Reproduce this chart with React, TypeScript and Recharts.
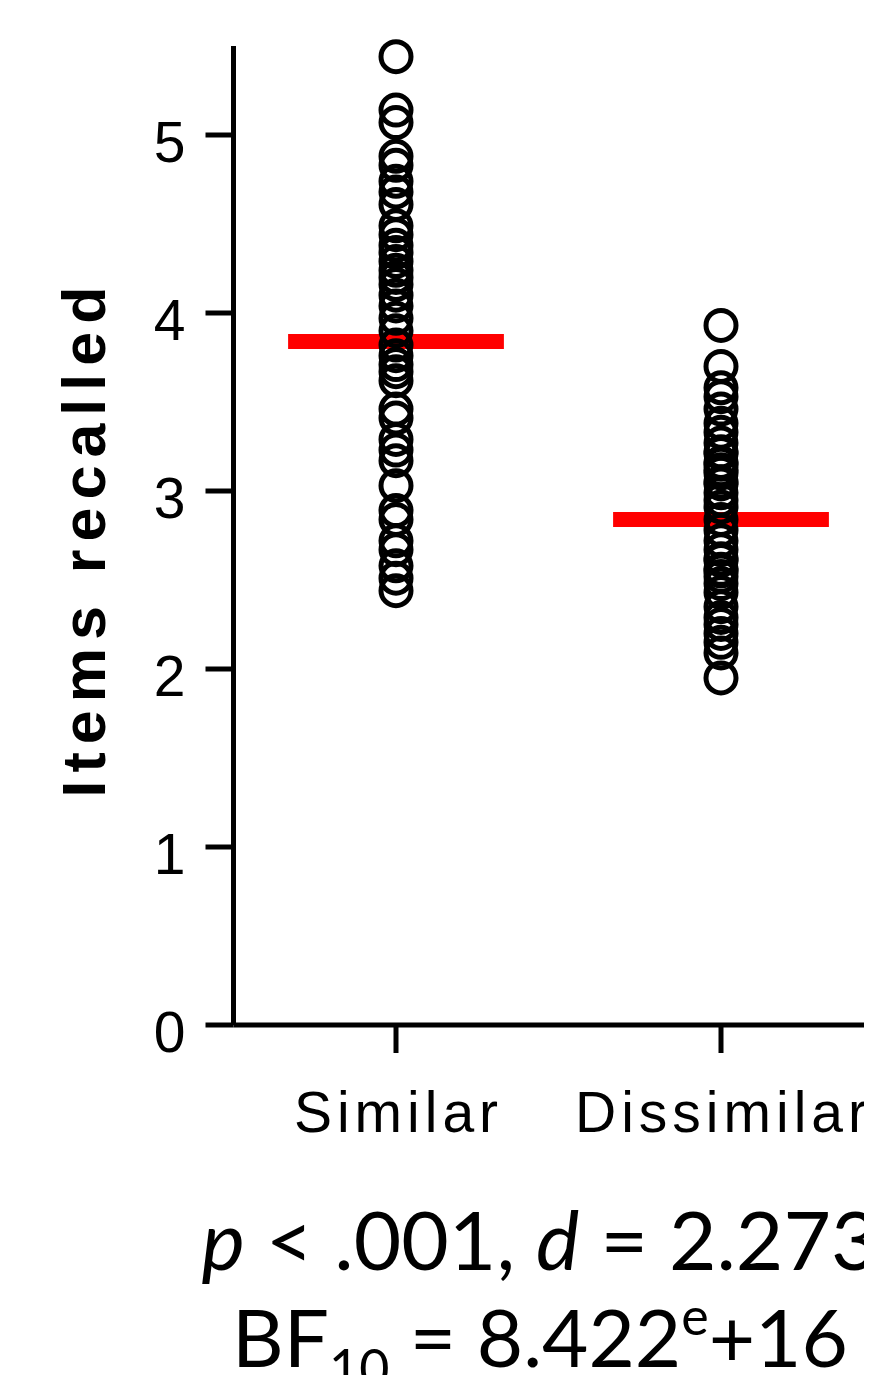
import React from 'react';
import { ScatterChart, Scatter, XAxis, YAxis, ReferenceLine } from 'recharts';

const categories = ['Similar', 'Dissimilar'];
const similarValues = [
  5.44, 5.14, 5.07, 4.88, 4.83, 4.74, 4.68, 4.61, 4.49, 4.44,
  4.38, 4.34, 4.29, 4.24, 4.2, 4.16, 4.1, 4.04, 3.97, 3.9,
  3.82, 3.76, 3.71, 3.67, 3.62, 3.46, 3.41, 3.29, 3.23, 3.17,
  3.03, 2.89, 2.84, 2.72, 2.67, 2.58, 2.51, 2.44,
];
const dissimilarValues = [
  3.93, 3.7, 3.58, 3.53, 3.46, 3.38, 3.33, 3.27, 3.22, 3.21,
  3.16, 3.15, 3.12, 3.1, 3.05, 3.04, 2.99, 2.95, 2.91, 2.84,
  2.78, 2.72, 2.67, 2.62, 2.61, 2.56, 2.55, 2.52, 2.48, 2.43,
  2.35, 2.29, 2.25, 2.2, 2.15, 2.09, 1.95,
];
const groupMeans = [3.84, 2.84];
const yTicks = [0, 1, 2, 3, 4, 5];
const xTicks = [1, 2];
const yLabel = 'Items recalled';

const similarData = similarValues.map((v) => ({ x: 1, y: v }));
const dissimilarData = dissimilarValues.map((v) => ({ x: 2, y: v }));

const AX = 'Liberation Sans, Arial, sans-serif';

const RingShape = (props: any) => (
  <circle cx={props.cx} cy={props.cy} r={15} fill="none" stroke="#000" strokeWidth={5} />
);

const YTick = (props: any) => (
  <text x={props.x} y={props.y} dy={27} textAnchor="end" fontFamily={AX} fontSize={57} fill="#000">
    {props.payload.value}
  </text>
);

const XTick = (props: any) => (
  <text
    x={props.x}
    y={props.y}
    dx={2.5}
    dy={69}
    textAnchor="middle"
    fontFamily={AX}
    fontSize={57}
    fill="#000"
    style={{ letterSpacing: '5px' }}
  >
    {categories[props.payload.value - 1]}
  </text>
);

const YLabelContent = () => (
  <text
    x={97}
    y={534}
    dx={4}
    transform="rotate(-90, 97, 534)"
    textAnchor="middle"
    fontFamily={AX}
    fontWeight="bold"
    fontSize={61}
    fill="#000"
    style={{ letterSpacing: '8px' }}
  >
    {yLabel}
  </text>
);

const HALF = 0.332;

export default function App() {
  return (
    <div style={{ width: 864, height: 1367, overflow: 'hidden', position: 'relative' }}>
      <ScatterChart
        width={900}
        height={1367}
        margin={{ top: 38, right: 24.5, left: 0, bottom: 230 }}
      >
        <XAxis
          type="number"
          dataKey="x"
          domain={[0.5, 2.5]}
          ticks={xTicks}
          height={120}
          tickSize={28}
          tickMargin={10}
          axisLine={{ stroke: '#000', strokeWidth: 5 }}
          tickLine={{ stroke: '#000', strokeWidth: 5 }}
          tick={<XTick />}
          interval={0}
        />
        <YAxis
          type="number"
          dataKey="y"
          domain={[0, 5.5]}
          ticks={yTicks}
          width={225.5}
          tickSize={28}
          tickMargin={20}
          axisLine={{ stroke: '#000', strokeWidth: 5 }}
          tickLine={{ stroke: '#000', strokeWidth: 5 }}
          tick={<YTick />}
          interval={0}
          label={{ value: yLabel, content: YLabelContent }}
        />
        <Scatter data={similarData} shape={RingShape} isAnimationActive={false} />
        <Scatter data={dissimilarData} shape={RingShape} isAnimationActive={false} />
        {groupMeans.map((m, i) => (
          <ReferenceLine
            key={i}
            segment={[
              { x: i + 1 - HALF, y: m },
              { x: i + 1 + HALF, y: m },
            ]}
            stroke="#ff0000"
            strokeWidth={15}
            ifOverflow="visible"
          />
        ))}
      </ScatterChart>
      <svg
        width={864}
        height={1367}
        style={{ position: 'absolute', left: 0, top: 0, pointerEvents: 'none' }}
      >
        <text x={532} y={1262} textAnchor="middle" fontFamily="Lato, sans-serif" fontSize={82} fill="#000">
          <tspan fontStyle="italic">p</tspan>
          <tspan> &lt; .001, </tspan>
          <tspan fontStyle="italic">d</tspan>
          <tspan> = 2.273</tspan>
        </text>
        <text x={532} y={1359} textAnchor="middle" fontFamily="Lato, sans-serif" fontSize={80} fill="#000">
          <tspan>BF</tspan>
          <tspan fontSize={52} dy={20}>10</tspan>
          <tspan dy={-20}> = 8.422</tspan>
          <tspan fontSize={52} dy={-32}>e</tspan>
          <tspan dy={32}>+16</tspan>
        </text>
      </svg>
    </div>
  );
}
